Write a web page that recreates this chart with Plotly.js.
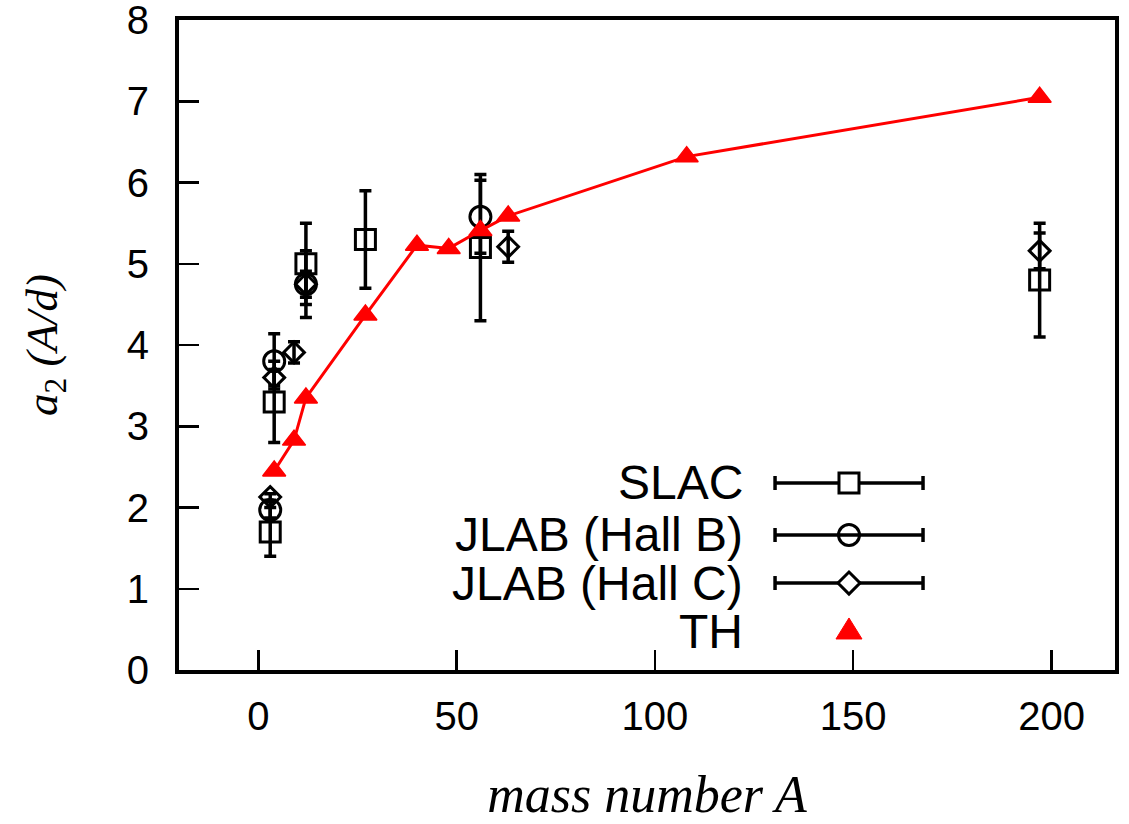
<!DOCTYPE html>
<html>
<head>
<meta charset="utf-8">
<script src="https://cdn.plot.ly/plotly-3.0.1.min.js"></script>
<style>html,body{margin:0;padding:0;background:#fff;}#chart{width:1129px;height:824px;}</style>
</head>
<body>
<div id="chart"></div>
<script>
// SLAC
const slacA = [3, 4, 12, 27, 56, 197];
const slacA2 = [1.7, 3.3, 5.0, 5.3, 5.2, 4.8];
const slacErr = [0.3, 0.5, 0.5, 0.6, 0.9, 0.7];
// JLAB Hall B
const hallBA = [3, 4, 12, 56];
const hallBA2 = [1.97, 3.80, 4.75, 5.58];
const hallBErr = [0.10, 0.34, 0.41, 0.45];
// JLAB Hall C
const hallCA = [3, 4, 9, 12, 63, 197];
const hallCA2 = [2.13, 3.60, 3.91, 4.75, 5.21, 5.16];
const hallCErr = [0.04, 0.10, 0.13, 0.16, 0.19, 0.22];
// Theory
const thA = [4, 9, 12, 27, 40, 48, 56, 63, 108, 197];
const thA2 = [2.45, 2.83, 3.35, 4.37, 5.23, 5.19, 5.41, 5.59, 6.32, 7.05];

const legendNames = ['SLAC', 'JLAB (Hall B)', 'JLAB (Hall C)', 'TH'];
const xTicks = [0, 50, 100, 150, 200];
const yTicks = [0, 1, 2, 3, 4, 5, 6, 7, 8];

function errTrace(x, y, e, symbol, size) {
  return {
    x: x, y: y, type: 'scatter', mode: 'markers',
    error_y: {type: 'data', array: e, visible: true, color: '#000', thickness: 3.5, width: 6},
    marker: {symbol: symbol, size: size, color: '#000', line: {width: 3, color: '#000'}},
    showlegend: false, cliponaxis: false
  };
}

const traces = [
  errTrace(slacA, slacA2, slacErr, 'square-open', 20),
  errTrace(hallBA, hallBA2, hallBErr, 'circle-open', 21),
  errTrace(hallCA, hallCA2, hallCErr, 'diamond-open', 16),
  {
    x: thA, y: thA2, type: 'scatter', mode: 'lines+markers',
    line: {color: '#ff0000', width: 3},
    marker: {symbol: 'triangle-up', size: 20, color: '#ff0000', line: {width: 1.5, color: '#ff0000'}},
    showlegend: false, cliponaxis: false
  }
];

// Manual legend (gnuplot style: text right-aligned, sample to the right)
const rowY = [0.2877, 0.2077, 0.1338, 0.0585];
const textX = 0.6047, lineX0 = 0.6368, lineX1 = 0.7949, symX = 0.7158;
const shapes = [], annotations = [];
for (let i = 0; i < 4; i++) {
  annotations.push({
    xref: 'paper', yref: 'paper', x: textX, y: rowY[i], xanchor: 'right', yanchor: 'middle',
    text: legendNames[i], showarrow: false,
    font: {family: 'Liberation Sans, Arial, sans-serif', size: 48, color: '#000'}
  });
  if (i < 3) {
    shapes.push({type: 'line', xref: 'paper', yref: 'paper', x0: lineX0, x1: lineX1, y0: rowY[i], y1: rowY[i],
      line: {color: '#000', width: 3.5}});
    [lineX0, lineX1].forEach(function (cx) {
      shapes.push({type: 'line', xref: 'paper', yref: 'paper', xsizemode: 'pixel', ysizemode: 'pixel',
        xanchor: cx, yanchor: rowY[i], x0: 0, x1: 0, y0: -7, y1: 7, line: {color: '#000', width: 3.5}});
    });
  }
}
const symBase = {xref: 'paper', yref: 'paper', xsizemode: 'pixel', ysizemode: 'pixel', xanchor: symX};
shapes.push(Object.assign({}, symBase, {type: 'rect', yanchor: rowY[0], x0: -10, x1: 10, y0: -10, y1: 10,
  fillcolor: '#fff', line: {color: '#000', width: 3}}));
shapes.push(Object.assign({}, symBase, {type: 'circle', yanchor: rowY[1], x0: -10.5, x1: 10.5, y0: -10.5, y1: 10.5,
  fillcolor: 'rgba(0,0,0,0)', line: {color: '#000', width: 3}}));
shapes.push(Object.assign({}, symBase, {type: 'path', yanchor: rowY[2], path: 'M0,11 L11,0 L0,-11 L-11,0 Z',
  fillcolor: '#fff', line: {color: '#000', width: 3}}));
shapes.push(Object.assign({}, symBase, {type: 'path', yanchor: rowY[3], path: 'M-13,-7 L13,-7 L0,14 Z',
  fillcolor: '#ff0000', line: {color: '#ff0000', width: 1}}));

const axisFont = {family: 'Liberation Sans, Arial, sans-serif', size: 40, color: '#000'};
const layout = {
  width: 1129, height: 824,
  margin: {l: 179, r: 14, t: 20, b: 154},
  paper_bgcolor: '#fff', plot_bgcolor: '#fff',
  showlegend: false,
  xaxis: {
    range: [-20, 216], tickvals: xTicks, ticktext: xTicks.map(String),
    ticks: 'inside', ticklen: 20, tickwidth: 2.5, tickcolor: '#000',
    showline: true, mirror: true, linecolor: '#000', linewidth: 4,
    showgrid: false, zeroline: false, tickfont: axisFont, ticklabelstandoff: 8,
    title: {text: '<i>mass number A</i>', font: {family: 'Liberation Serif, Times New Roman, serif', size: 52, color: '#000'}, standoff: 40}
  },
  yaxis: {
    range: [0, 8.002], tickvals: yTicks, ticktext: yTicks.map(String),
    ticks: 'inside', ticklen: 20, tickwidth: 2.5, tickcolor: '#000',
    showline: true, mirror: true, linecolor: '#000', linewidth: 4,
    showgrid: false, zeroline: false, tickfont: axisFont, ticklabelstandoff: 18,
    ticklabeloverflow: 'allow',
    title: {text: '<i>a</i><sub>2</sub> <i>(A/d)</i>', font: {family: 'Liberation Serif, Times New Roman, serif', size: 45, color: '#000'}, standoff: 56}
  },
  shapes: shapes,
  annotations: annotations
};

Plotly.newPlot('chart', traces, layout, {displayModeBar: false, staticPlot: true});
</script>
</body>
</html>
